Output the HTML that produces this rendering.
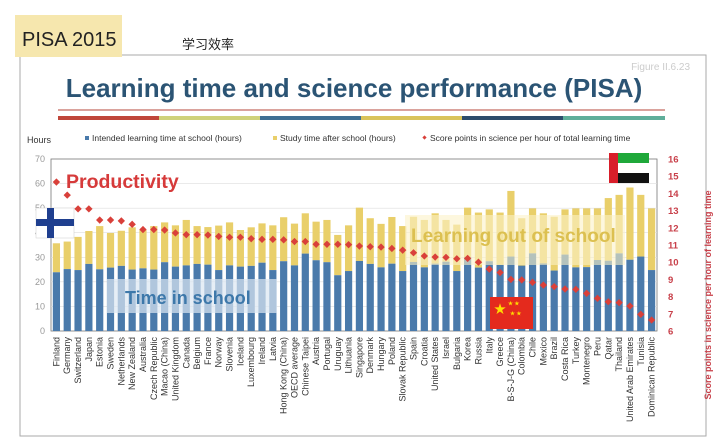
<!DOCTYPE html>
<html><head><meta charset="utf-8"><style>
html,body{margin:0;padding:0;background:#fff;width:722px;height:446px;overflow:hidden}
svg{display:block;font-family:"Liberation Sans","Noto Sans CJK SC",sans-serif}
</style></head><body>
<svg width="722" height="446" viewBox="0 0 722 446" xmlns="http://www.w3.org/2000/svg">
<rect x="20" y="55" width="686" height="381" fill="none" stroke="#aaa" stroke-width="1"/>
<rect x="15" y="15" width="107" height="42" fill="#f6e7ae"/>
<text x="22" y="46" font-size="20" fill="#222">PISA 2015</text>
<text x="182" y="49" font-size="13" fill="#222" font-family="Noto Sans CJK SC, sans-serif">学习效率</text>
<text x="690" y="70" font-size="10" fill="#ccc" text-anchor="end">Figure II.6.23</text>
<text x="354" y="97" font-size="26" font-weight="bold" fill="#2b5474" text-anchor="middle">Learning time and science performance (PISA)</text>
<line x1="58" y1="110" x2="665" y2="110" stroke="#b5453a" stroke-width="1"/>
<g stroke-width="4">
<line x1="58" y1="118" x2="159" y2="118" stroke="#c0463a"/>
<line x1="159" y1="118" x2="260" y2="118" stroke="#cfd27a"/>
<line x1="260" y1="118" x2="361" y2="118" stroke="#3f6f94"/>
<line x1="361" y1="118" x2="462" y2="118" stroke="#d9c35a"/>
<line x1="462" y1="118" x2="563" y2="118" stroke="#2d4c6c"/>
<line x1="563" y1="118" x2="665" y2="118" stroke="#5fae9a"/>
</g>
<text x="27" y="143" font-size="9" fill="#333">Hours</text>
<rect x="85" y="136" width="4" height="4" fill="#4a7aab"/><text x="92" y="141" font-size="8.5" fill="#333">Intended learning time at school (hours)</text>
<rect x="273" y="136" width="4" height="4" fill="#e9cf6a"/><text x="280" y="141" font-size="8.5" fill="#333">Study time after school (hours)</text>
<rect x="423" y="136" width="3" height="3" fill="#d9403a" transform="rotate(45 424.5 137.5)"/><text x="430" y="141" font-size="8.5" fill="#333">Score points in science per hour of total learning time</text>
<g id="plot"></g>
</svg>
<script>
var names=["Finland","Germany","Switzerland","Japan","Estonia","Sweden","Netherlands","New Zealand","Australia","Czech Republic","Macao (China)","United Kingdom","Canada","Belgium","France","Norway","Slovenia","Iceland","Luxembourg","Ireland","Latvia","Hong Kong (China)","OECD average","Chinese Taipei","Austria","Portugal","Uruguay","Lithuania","Singapore","Denmark","Hungary","Poland","Slovak Republic","Spain","Croatia","United States","Israel","Bulgaria","Korea","Russia","Italy","Greece","B-S-J-G (China)","Colombia","Chile","Mexico","Brazil","Costa Rica","Turkey","Montenegro","Peru","Qatar","Thailand","United Arab Emirates","Tunisia","Dominican Republic"];
var sch=[23.9,25.2,24.8,27.3,25.1,25.8,26.5,25,25.5,25,28,26.2,26.7,27.3,27,24.8,26.7,26.2,26.5,27.8,24.8,28.4,26.7,31.5,28.8,28,22.7,24.4,28.5,27.3,25.9,27.4,24.4,28.1,25.9,27.4,28.2,24.4,30,25.8,28.4,26.9,30.3,26.6,31.6,27.5,24.6,31.1,25.9,26,28.9,28.6,31.6,29,30.3,24.8];
var tot=[35.7,36.4,38.3,40.7,42.7,39.9,40.8,42.2,41.1,42.7,44.2,43,45.2,42.7,42.3,42.9,44.2,41.1,42.2,43.8,43,46.3,43.7,47.9,44.5,45.2,39.1,43,50.2,45.9,43.6,46.4,42.7,46.5,45.2,47.9,45.2,43.3,50.2,48.2,49.5,48.2,57,45.9,49.9,47.9,46.5,49.5,49.9,49.9,49.9,54.1,55.4,58.4,55.4,49.9];
var sc=[14.66,13.9,13.1,13.1,12.45,12.45,12.4,12.2,11.9,11.9,11.87,11.7,11.6,11.6,11.58,11.5,11.45,11.45,11.37,11.33,11.33,11.3,11.2,11.2,11.04,11.04,11.04,11.02,10.94,10.9,10.88,10.8,10.7,10.55,10.36,10.3,10.28,10.2,10.22,10.0,9.6,9.4,9.0,8.97,8.83,8.67,8.58,8.44,8.42,8.19,7.9,7.7,7.65,7.45,6.97,6.64];
var X0=51,X1=657,Y0=331,Y70=159,n=56,w=(X1-X0)/n;
function yh(v){return Y0-(Y0-Y70)*v/70}function yr(v){return Y0-(Y0-Y70)*(v-6)/10}
var s='';
s+='<rect x="'+X0+'" y="'+Y70+'" width="'+(X1-X0)+'" height="'+(Y0-Y70)+'" fill="#fff" stroke="#777" stroke-width="0.8"/>';
for(var t=0;t<=70;t+=10){var y=yh(t);if(t>0&&t<70)s+='<line x1="'+X0+'" x2="'+X1+'" y1="'+y+'" y2="'+y+'" stroke="#ddd" stroke-width="0.6"/>';s+='<text x="45" y="'+(y+3)+'" font-size="9" fill="#999" text-anchor="end">'+t+'</text>';}
for(var t=6;t<=16;t++){s+='<text x="668" y="'+(yr(t)+3.5)+'" font-size="9.5" font-weight="bold" fill="#c8404a">'+t+'</text>';}
for(var i=0;i<n;i++){var cx=X0+w*(i+0.5),bx=cx-3.6;
s+='<rect x="'+bx+'" y="'+yh(tot[i])+'" width="7.2" height="'+(yh(sch[i])-yh(tot[i]))+'" fill="#e9cf6a"/>';
s+='<rect x="'+bx+'" y="'+yh(sch[i])+'" width="7.2" height="'+(Y0-yh(sch[i]))+'" fill="#4a7aab"/>';
s+='<text transform="translate('+(cx+3)+',337) rotate(-90)" font-size="9" fill="#333" text-anchor="end">'+names[i]+'</text>';}
s+='<rect x="107" y="279" width="170" height="34" fill="#dbe7f2" opacity="0.7"/>';
s+='<rect x="405" y="215" width="220" height="50" fill="#fbf1c8" opacity="0.6"/>';
for(var i=0;i<n;i++){var cx=X0+w*(i+0.5),y=yr(sc[i]);s+='<rect x="'+(cx-2.6)+'" y="'+(y-2.6)+'" width="5.2" height="5.2" fill="#d9403a" transform="rotate(45 '+cx+' '+y+')"/>';}
s+='<text x="125" y="304" font-size="18" font-weight="bold" fill="#3d78aa">Time in school</text>';
s+='<text x="411" y="242" font-size="19" font-weight="bold" fill="#dcc050">Learning out of school</text>';
s+='<text x="66" y="188" font-size="19.5" font-weight="bold" fill="#d63a3a">Productivity</text>';
s+='<rect x="36" y="208" width="38" height="30" fill="#fff" stroke="#ccc" stroke-width="0.5"/><rect x="36" y="219" width="38" height="7" fill="#1f3f8f"/><rect x="47" y="208" width="7" height="30" fill="#1f3f8f"/>';
s+='<rect x="609" y="153" width="40" height="10" fill="#1fa83a"/><rect x="609" y="163" width="40" height="10" fill="#fff"/><rect x="609" y="173" width="40" height="10" fill="#111"/><rect x="609" y="153" width="9" height="30" fill="#d81e2a"/>';
s+='<rect x="490" y="297" width="43" height="32" fill="#e42a1d"/><text x="494" y="313" font-size="12" fill="#ffde00">★</text><text x="508" y="305" font-size="5" fill="#ffde00">★ ★</text><text x="510" y="315" font-size="5" fill="#ffde00">★ ★</text>';
s+='<text transform="translate(711,295) rotate(-90)" font-size="9" font-weight="bold" fill="#c8404a" text-anchor="middle">Score points in science per hour of learning time</text>';
document.getElementById('plot').innerHTML=s;
</script>
</body></html>
